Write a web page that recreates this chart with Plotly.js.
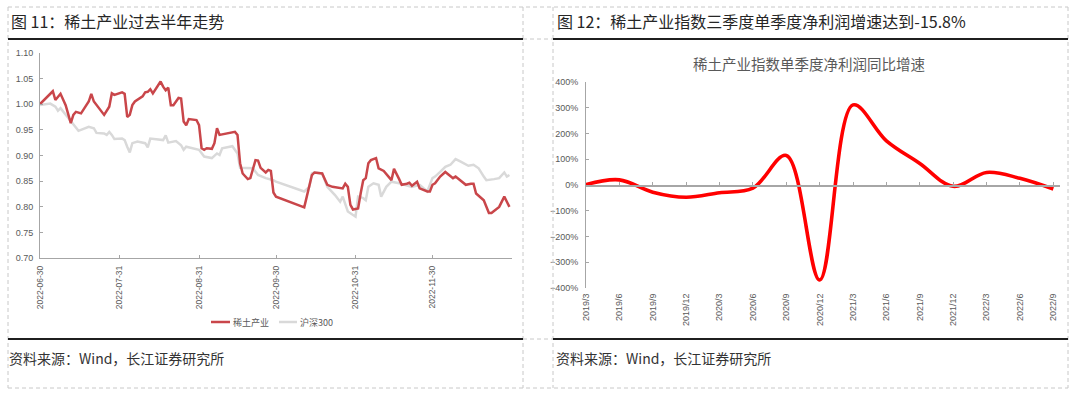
<!DOCTYPE html>
<html><head><meta charset="utf-8">
<script src="https://cdn.plot.ly/plotly-3.0.1.min.js"></script>
<style>html,body{margin:0;padding:0;background:#fff}#c{width:1080px;height:399px}</style>
</head><body><div id="c"></div>
<script>
// ---- Left chart data: 稀土产业 vs 沪深300 (normalised) ----
const reDates = ['2022-06-30','2022-07-05','2022-07-06','2022-07-08','2022-07-10','2022-07-12','2022-07-13','2022-07-14','2022-07-16','2022-07-19','2022-07-20','2022-07-21','2022-07-25','2022-07-27','2022-07-28','2022-07-29','2022-08-01','2022-08-02','2022-08-03','2022-08-04','2022-08-05','2022-08-06','2022-08-09','2022-08-10','2022-08-11','2022-08-12','2022-08-13','2022-08-16','2022-08-17','2022-08-18','2022-08-19','2022-08-20','2022-08-21','2022-08-23','2022-08-24','2022-08-25','2022-08-26','2022-08-27','2022-08-30','2022-08-31','2022-09-01','2022-09-02','2022-09-03','2022-09-05','2022-09-06','2022-09-07','2022-09-08','2022-09-11','2022-09-14','2022-09-15','2022-09-16','2022-09-17','2022-09-19','2022-09-20','2022-09-22','2022-09-23','2022-09-24','2022-09-26','2022-09-27','2022-09-28','2022-09-29','2022-09-30','2022-10-11','2022-10-12','2022-10-14','2022-10-15','2022-10-18','2022-10-20','2022-10-22','2022-10-26','2022-10-27','2022-10-28','2022-10-29','2022-10-30','2022-11-01','2022-11-02','2022-11-03','2022-11-04','2022-11-05','2022-11-06','2022-11-08','2022-11-09','2022-11-11','2022-11-14','2022-11-15','2022-11-17','2022-11-18','2022-11-20','2022-11-21','2022-11-22','2022-11-24','2022-11-25','2022-11-28','2022-11-29','2022-11-30','2022-12-01','2022-12-03','2022-12-05','2022-12-08','2022-12-09','2022-12-13','2022-12-15','2022-12-16','2022-12-17','2022-12-20','2022-12-22','2022-12-23','2022-12-26','2022-12-28','2022-12-29','2022-12-30'];
const reValues = [1.000,1.025,1.008,1.020,0.998,0.963,0.979,0.985,0.982,1.005,1.020,1.005,0.979,0.995,1.021,1.018,1.023,1.020,0.975,0.979,0.998,1.005,1.015,1.023,1.024,1.029,1.021,1.044,1.034,1.027,1.032,0.998,0.998,1.012,1.011,0.966,0.959,0.971,0.969,0.959,0.914,0.911,0.914,0.913,0.924,0.953,0.940,0.943,0.946,0.940,0.885,0.865,0.854,0.856,0.891,0.890,0.876,0.867,0.872,0.870,0.828,0.820,0.799,0.820,0.862,0.867,0.865,0.843,0.839,0.836,0.845,0.839,0.804,0.795,0.797,0.826,0.852,0.856,0.885,0.891,0.895,0.875,0.870,0.852,0.874,0.854,0.843,0.845,0.847,0.841,0.849,0.836,0.830,0.830,0.843,0.846,0.859,0.868,0.856,0.859,0.843,0.845,0.845,0.826,0.813,0.788,0.788,0.800,0.820,0.810,0.800];

const hsDates = ['2022-06-30','2022-07-04','2022-07-06','2022-07-07','2022-07-08','2022-07-10','2022-07-12','2022-07-15','2022-07-19','2022-07-21','2022-07-22','2022-07-25','2022-07-26','2022-07-27','2022-07-28','2022-07-29','2022-08-01','2022-08-02','2022-08-03','2022-08-04','2022-08-05','2022-08-07','2022-08-10','2022-08-11','2022-08-12','2022-08-15','2022-08-17','2022-08-18','2022-08-19','2022-08-22','2022-08-24','2022-08-25','2022-08-26','2022-08-31','2022-09-02','2022-09-05','2022-09-07','2022-09-08','2022-09-09','2022-09-13','2022-09-15','2022-09-16','2022-09-19','2022-09-21','2022-09-23','2022-09-26','2022-09-29','2022-09-30','2022-10-11','2022-10-13','2022-10-14','2022-10-15','2022-10-18','2022-10-20','2022-10-23','2022-10-25','2022-10-26','2022-10-27','2022-10-28','2022-10-31','2022-11-01','2022-11-03','2022-11-04','2022-11-05','2022-11-07','2022-11-09','2022-11-10','2022-11-12','2022-11-14','2022-11-17','2022-11-20','2022-11-22','2022-11-25','2022-11-28','2022-11-30','2022-12-01','2022-12-03','2022-12-05','2022-12-07','2022-12-09','2022-12-11','2022-12-14','2022-12-16','2022-12-18','2022-12-20','2022-12-21','2022-12-24','2022-12-26','2022-12-28','2022-12-29','2022-12-30'];
const hsValues = [0.998,1.001,0.995,0.987,0.992,0.979,0.966,0.948,0.956,0.953,0.944,0.943,0.940,0.946,0.940,0.932,0.933,0.930,0.917,0.906,0.924,0.927,0.924,0.916,0.933,0.931,0.930,0.939,0.925,0.928,0.920,0.911,0.917,0.911,0.898,0.895,0.904,0.901,0.914,0.918,0.904,0.876,0.876,0.875,0.862,0.856,0.852,0.849,0.830,0.839,0.865,0.867,0.865,0.839,0.823,0.810,0.820,0.807,0.791,0.781,0.820,0.817,0.813,0.839,0.846,0.843,0.820,0.839,0.849,0.846,0.841,0.839,0.843,0.830,0.856,0.859,0.868,0.878,0.882,0.893,0.888,0.880,0.882,0.875,0.859,0.852,0.854,0.856,0.867,0.859,0.862];

const leftTickVals = ['2022-06-30','2022-07-31','2022-08-31','2022-09-30','2022-10-31','2022-11-30','2022-12-31'];
const leftTickText = ['2022-06-30','2022-07-31','2022-08-31','2022-09-30','2022-10-31','2022-11-30',''];
const leftNames = ['稀土产业','沪深300'];

// ---- Right chart data: 单季度净利润同比增速 (%) ----
const quarters = ['2019/3','2019/6','2019/9','2019/12','2020/3','2020/6','2020/9','2020/12','2021/3','2021/6','2021/9','2021/12','2022/3','2022/6','2022/9'];
const growth = [2, 20, -28, -48, -30, -12, 115, -370, 312, 172, 84, -5, 49, 26, -15.8];

const headers = ['图 11：稀土产业过去半年走势','图 12：稀土产业指数三季度单季度净利润增速达到-15.8%'];
const rightTitle = '稀土产业指数单季度净利润同比增速';
const source = '资料来源：Wind，长江证券研究所';

// ---- layout helpers (pixel -> paper) ----
const W = 1080, H = 399;
const fx = x => x / W, fy = y => 1 - y / H;
const CJK = 'Noto Sans CJK SC, Noto Sans, sans-serif';
const NUM = 'Liberation Sans, Arial, sans-serif';
const RED_L = '#c9464a', GRAY_L = '#d9d9d9', RED_R = '#ff0000';
const AX = '#a6a6a6', TXT = '#595959';

const ryDom = [fy(287.7), fy(82.3)];

const traces = [
  {x: hsDates, y: hsValues, name: leftNames[1], mode: 'lines', line: {color: GRAY_L, width: 2.5}, xaxis: 'x', yaxis: 'y', hoverinfo: 'skip'},
  {x: reDates, y: reValues, name: leftNames[0], mode: 'lines', line: {color: RED_L, width: 2.5}, xaxis: 'x', yaxis: 'y', hoverinfo: 'skip'},
  {x: quarters, y: growth, mode: 'lines', line: {color: RED_R, width: 3.6, shape: 'spline', smoothing: 1}, xaxis: 'x3', yaxis: 'y2', hoverinfo: 'skip'},
  {x: quarters, y: quarters.map(() => null), mode: 'lines', xaxis: 'x4', yaxis: 'y2', hoverinfo: 'skip', showlegend: false}
];

function seg(x0, y0, x1, y1, color, width, dash) {
  return {type: 'line', xref: 'paper', yref: 'paper', x0: fx(x0), y0: fy(y0), x1: fx(x1), y1: fy(y1),
          line: {color: color, width: width, dash: dash || 'solid'}};
}
const DC = '#c8c8c8', DD = '4px,3px';
const shapes = [
  seg(8, 7, 1068, 7, DC, 1, DD),
  seg(8, 388, 1068, 388, DC, 1, DD),
  seg(8, 7, 8, 388, DC, 1, DD),
  seg(523, 7, 523, 388, DC, 1, DD),
  seg(553, 7, 553, 388, DC, 1, DD),
  seg(1068, 7, 1068, 388, DC, 1, DD),
  seg(523, 39, 553, 39, DC, 1, DD),
  seg(523, 339, 553, 339, DC, 1, DD),
  seg(8, 39, 523, 39, '#1f1f1f', 2),
  seg(553, 39, 1068, 39, '#1f1f1f', 2),
  seg(8, 339, 523, 339, '#1f1f1f', 2),
  seg(553, 339, 1068, 339, '#1f1f1f', 2),
  // legend samples
  seg(211, 322, 230, 322, RED_L, 2.5),
  seg(279, 322, 297, 322, GRAY_L, 2.5)
];

function ann(text, x, y, size, color, xanchor) {
  return {text: text, x: fx(x), y: fy(y), xref: 'paper', yref: 'paper', showarrow: false,
          xanchor: xanchor || 'left', yanchor: 'middle', font: {family: CJK, size: size, color: color}};
}
const annotations = [
  ann(headers[0], 9, 21, 16, '#262626'),
  ann(headers[1], 555, 21, 16, '#262626'),
  ann(rightTitle, 809, 63, 14.5, TXT, 'center'),
  ann(source, 7, 358, 14, '#333333'),
  ann(source, 554, 358, 14, '#333333'),
  ann(leftNames[0], 231, 322, 9, TXT),
  ann(leftNames[1], 298, 322, 9, TXT)
];

const tf = {family: NUM, size: 9, color: TXT};
const layout = {
  width: W, height: H, margin: {l: 0, r: 0, t: 0, b: 0, pad: 0},
  paper_bgcolor: '#ffffff', plot_bgcolor: 'rgba(0,0,0,0)', showlegend: false,
  xaxis: {domain: [fx(40), fx(512)], anchor: 'y', type: 'date', range: ['2022-06-30', '2022-12-31'],
          tickmode: 'array', tickvals: leftTickVals, ticktext: leftTickText, tickangle: -90,
          ticks: 'inside', ticklen: 3, tickcolor: AX, showline: true, linecolor: AX, linewidth: 1,
          showgrid: false, zeroline: false, tickfont: {family: NUM, size: 8.5, color: TXT}, ticklabelstandoff: 3},
  yaxis: {domain: [fy(258.3), fy(52.7)], anchor: 'x', range: [0.70, 1.10], tick0: 0.70, dtick: 0.05, tickformat: '.2f',
          ticks: 'inside', ticklen: 3, tickcolor: AX, showline: true, linecolor: AX, linewidth: 1,
          showgrid: false, zeroline: false, tickfont: tf, ticklabelstandoff: 4},
  xaxis3: {domain: [fx(586), fx(1060)], anchor: 'y2', type: 'category', range: [0, 14.2],
           showline: false, ticks: '', tickangle: -90, showgrid: false, zeroline: false,
           tickfont: tf, ticklabelstandoff: 3},
  xaxis4: {domain: [fx(586), fx(1060)], overlaying: 'x3', anchor: 'free', position: (ryDom[0] + ryDom[1]) / 2,
           type: 'category', range: [0, 14.2], showline: true, linecolor: AX, linewidth: 1.5,
           ticks: 'inside', ticklen: 3, tickcolor: AX, showticklabels: false, showgrid: false, zeroline: false},
  yaxis2: {domain: ryDom, anchor: 'x3', range: [-400, 400], dtick: 100, ticksuffix: '%',
           ticks: 'inside', ticklen: 3, tickcolor: AX, showline: true, linecolor: AX, linewidth: 1,
           showgrid: false, zeroline: false, tickfont: tf, ticklabelstandoff: 5},
  shapes: shapes, annotations: annotations
};

Plotly.newPlot('c', traces, layout, {staticPlot: true, displayModeBar: false});
</script></body></html>
